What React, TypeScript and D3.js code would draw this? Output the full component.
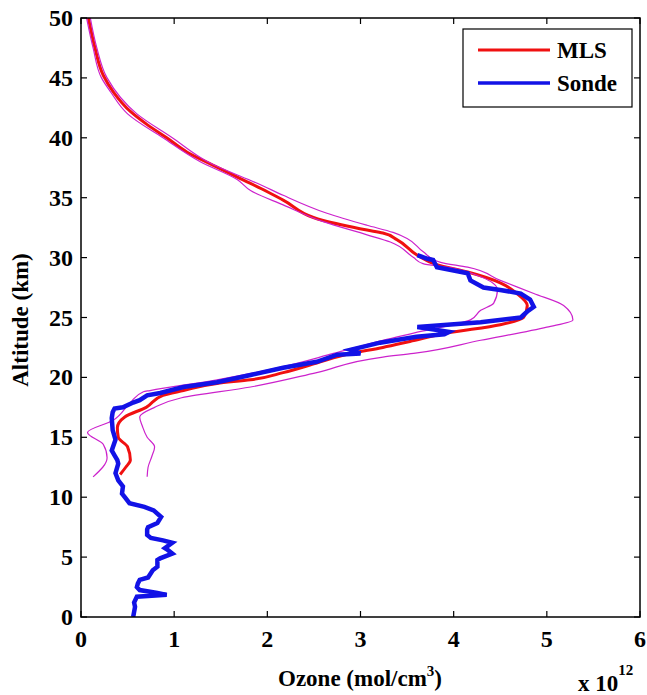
import React, { useEffect, useRef } from "react";
import * as d3 from "d3";

// MLS profile: [altitude km, ozone x1e12 mol/cm3]
const mlsAlt = [50, 47.5, 45.2, 43.8, 42.2, 41.1, 40.0, 38.8, 37.7, 36.6, 35.5, 34.8, 33.1, 32.3, 32.05, 31.5, 30.2, 29.4, 28.8, 27.9, 27.0, 26.0, 25.0, 24.4, 23.7, 23.0, 22.5, 22.0, 21.2, 20.4, 19.8, 19.5, 18.9, 18.5, 17.5, 16.7, 15.8, 15.0, 14.2, 13.1, 12.5, 11.9];
const mlsVal = [0.08, 0.15, 0.24, 0.35, 0.53, 0.71, 0.92, 1.14, 1.42, 1.71, 2.0, 2.17, 2.6, 3.07, 3.24, 3.39, 3.61, 3.82, 4.15, 4.5, 4.68, 4.79, 4.75, 4.5, 3.93, 3.53, 3.24, 2.89, 2.53, 2.17, 1.82, 1.46, 1.1, 0.88, 0.7, 0.47, 0.39, 0.4, 0.5, 0.53, 0.48, 0.42];

// MLS upper bound
const upperAlt = [50, 47.5, 45, 42, 40, 38, 36, 35.2, 33.7, 32.7, 32.1, 31.6, 30.5, 29.6, 29.2, 28.1, 27.0, 26.0, 24.8, 24.2, 23.1, 22.0, 21.7, 20.4, 19.2, 18.3, 17.5, 16.7, 15.9, 15.0, 14.2, 13.4, 12.5, 11.7];
const upperVal = [0.1, 0.17, 0.28, 0.6, 0.98, 1.36, 1.95, 2.17, 2.64, 3.07, 3.35, 3.5, 3.67, 3.86, 4.15, 4.5, 4.86, 5.18, 5.28, 5.0, 4.29, 3.57, 3.24, 2.53, 1.82, 1.08, 0.79, 0.63, 0.66, 0.71, 0.79, 0.76, 0.72, 0.71];

// MLS lower bound
const lowerAlt = [50, 47.5, 45, 43.8, 42, 40, 38, 36.5, 35.6, 34.4, 33.0, 31.9, 31.3, 30.0, 29.5, 29.2, 28.4, 27.3, 26.2, 25.6, 24.8, 23.7, 23.1, 22.0, 20.9, 19.8, 18.9, 18.8, 17.9, 16.4, 15.4, 14.4, 13.3, 11.7];
const lowerVal = [0.06, 0.13, 0.22, 0.32, 0.5, 0.88, 1.28, 1.68, 1.82, 2.17, 2.6, 3.07, 3.32, 3.57, 3.67, 3.93, 4.29, 4.47, 4.43, 4.29, 4.18, 3.57, 3.24, 2.71, 2.17, 1.46, 0.74, 0.67, 0.53, 0.34, 0.07, 0.24, 0.28, 0.13];

// Ozonesonde profile
const sondeAlt = [30.2, 29.9, 29.8, 29.2, 28.7, 28.1, 27.5, 27.3, 27.0, 26.5, 25.9, 25.5, 25.0, 24.6, 24.2, 23.8, 23.6, 23.4, 22.9, 22.3, 22.0, 21.9, 21.3, 20.8, 20.2, 19.6, 19.2, 18.7, 18.5, 18.1, 17.9, 17.5, 17.4, 17.1, 16.6, 15.6, 14.8, 13.9, 13.5, 13.1, 12.8, 12.0, 11.4, 10.9, 10.3, 10.0, 9.5, 9.2, 8.9, 8.35, 7.85, 7.5, 7.3, 6.85, 6.6, 6.4, 6.2, 5.75, 5.6, 5.3, 4.9, 4.75, 4.2, 3.9, 3.3, 3.1, 2.8, 2.5, 2.25, 2.0, 1.85, 1.7, 1.2, 0.85, 0];
const sondeVal = [3.61, 3.72, 3.78, 3.82, 4.15, 4.18, 4.32, 4.5, 4.72, 4.82, 4.86, 4.79, 4.72, 4.29, 3.61, 3.95, 3.9, 3.6, 3.21, 2.89, 3.0, 2.75, 2.53, 2.17, 1.82, 1.46, 1.1, 0.85, 0.71, 0.63, 0.56, 0.45, 0.36, 0.34, 0.33, 0.34, 0.37, 0.33, 0.36, 0.39, 0.4, 0.37, 0.4, 0.45, 0.44, 0.47, 0.52, 0.68, 0.78, 0.86, 0.82, 0.72, 0.71, 0.71, 0.75, 0.88, 0.98, 0.9, 0.93, 0.98, 0.85, 0.82, 0.82, 0.77, 0.72, 0.63, 0.61, 0.6, 0.63, 0.82, 0.92, 0.6, 0.57, 0.58, 0.56];

const xTicks = [0, 1, 2, 3, 4, 5, 6];
const yTicks = [0, 5, 10, 15, 20, 25, 30, 35, 40, 45, 50];
const legendNames = ["MLS", "Sonde"];

const W = 647;
const H = 695;
const M = { left: 81, right: 640, top: 18, bottom: 617 };

export default function App() {
  const svgRef = useRef<SVGSVGElement | null>(null);

  useEffect(() => {
    const svg = svgRef.current;
    if (!svg) return;
    svg.querySelectorAll("text, tspan").forEach((el) => {
      (el as SVGElement).style.setProperty("font-family", "'Liberation Serif', 'Times New Roman', serif", "important");
      (el as SVGElement).style.setProperty("font-weight", "700", "important");
    });
  });

  const x = d3.scaleLinear().domain([0, 6]).range([M.left, M.right]);
  const y = d3.scaleLinear().domain([0, 50]).range([M.bottom, M.top]);
  const smooth = d3
    .line<[number, number]>()
    .x((d) => x(d[1]))
    .y((d) => y(d[0]))
    .curve(d3.curveMonotoneY);
  const straight = d3
    .line<[number, number]>()
    .x((d) => x(d[1]))
    .y((d) => y(d[0]));
  const zip = (a: number[], v: number[]) => a.map((al, i) => [al, v[i]] as [number, number]);

  const red = "#f01010";
  const blue = "#1212e6";
  const mag = "#cc22cc";

  return (
    <div style={{ position: "absolute", left: 0, top: 0, width: W, height: H, background: "#fff" }}>
      <svg id="ozchart" ref={svgRef} width={W} height={H}>
        <style>{`#ozchart text, #ozchart tspan { font-family: 'Liberation Serif', 'Times New Roman', serif !important; font-weight: 700 !important; }`}</style>
        <defs>
          <clipPath id="plotclip">
            <rect x={M.left} y={M.top} width={M.right - M.left} height={M.bottom - M.top} />
          </clipPath>
        </defs>
        <g clipPath="url(#plotclip)">
          <path d={smooth(zip(mlsAlt, mlsVal)) || ""} fill="none" stroke={red} strokeWidth={3} strokeLinejoin="round" />
          <path d={smooth(zip(upperAlt, upperVal)) || ""} fill="none" stroke={mag} strokeWidth={1.2} />
          <path d={smooth(zip(lowerAlt, lowerVal)) || ""} fill="none" stroke={mag} strokeWidth={1.2} />
          <path d={straight(zip(sondeAlt, sondeVal)) || ""} fill="none" stroke={blue} strokeWidth={4.5} strokeLinejoin="miter" />
        </g>
        <rect x={M.left} y={M.top} width={M.right - M.left} height={M.bottom - M.top} fill="none" stroke="#000" strokeWidth={1.5} />
        {xTicks.map((t) => (
          <g key={"x" + t}>
            <line x1={x(t)} x2={x(t)} y1={M.bottom} y2={M.bottom - 6} stroke="#000" strokeWidth={1.2} />
            <line x1={x(t)} x2={x(t)} y1={M.top} y2={M.top + 6} stroke="#000" strokeWidth={1.2} />
            <text x={x(t)} y={647} textAnchor="middle" fontSize={24} fontFamily="Liberation Serif" fontWeight="bold">
              {t}
            </text>
          </g>
        ))}
        {yTicks.map((t) => (
          <g key={"y" + t}>
            <line x1={M.left} x2={M.left + 6} y1={y(t)} y2={y(t)} stroke="#000" strokeWidth={1.2} />
            <line x1={M.right} x2={M.right - 6} y1={y(t)} y2={y(t)} stroke="#000" strokeWidth={1.2} />
            <text x={73} y={y(t) + 8} textAnchor="end" fontSize={24} fontFamily="Liberation Serif" fontWeight="bold">
              {t}
            </text>
          </g>
        ))}
        <text x={360} y={686} textAnchor="middle" fontSize={23} fontFamily="Liberation Serif" fontWeight="bold">
          Ozone (mol/cm<tspan dy={-10} fontSize={15}>3</tspan>
          <tspan dy={10}>)</tspan>
        </text>
        <text x={578} y={691} fontSize={23} fontFamily="Liberation Serif" fontWeight="bold">
          x 10<tspan dy={-16} fontSize={15}>12</tspan>
        </text>
        <text transform="translate(28,320) rotate(-90)" textAnchor="middle" fontSize={23} fontFamily="Liberation Serif" fontWeight="bold">
          Altitude (km)
        </text>
        <rect x={463} y={29} width={169} height={78} fill="#fff" stroke="#000" strokeWidth={1.2} />
        <line x1={478} x2={550} y1={50} y2={50} stroke={red} strokeWidth={3} />
        <line x1={478} x2={550} y1={83} y2={83} stroke={blue} strokeWidth={3.5} />
        <text x={557} y={58} fontSize={23} fontFamily="Liberation Serif" fontWeight="bold">
          {legendNames[0]}
        </text>
        <text x={557} y={91} fontSize={23} fontFamily="Liberation Serif" fontWeight="bold">
          {legendNames[1]}
        </text>
      </svg>
    </div>
  );
}
